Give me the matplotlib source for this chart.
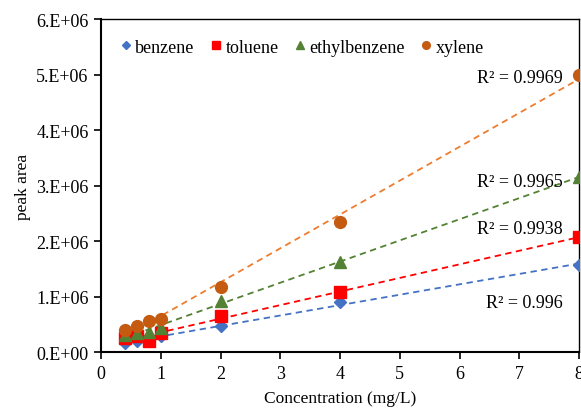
import numpy as np
import matplotlib
matplotlib.use('Agg')
import matplotlib.pyplot as plt

plt.rcParams['font.family'] = ['Liberation Serif', 'DejaVu Serif']

# Concentrations (mg/L) and peak areas
conc = [0.4, 0.6, 0.8, 1, 2, 4, 8]
benzene = [0.17e6, 0.20e6, 0.23e6, 0.28e6, 0.47e6, 0.90e6, 1.57e6]
toluene = [0.26e6, 0.29e6, 0.19e6, 0.35e6, 0.65e6, 1.08e6, 2.07e6]
ethylbenzene = [0.30e6, 0.34e6, 0.36e6, 0.44e6, 0.92e6, 1.63e6, 3.15e6]
xylene = [0.39e6, 0.46e6, 0.55e6, 0.60e6, 1.17e6, 2.35e6, 5.00e6]

names = ['benzene', 'toluene', 'ethylbenzene', 'xylene']
r2_labels = ['R² = 0.996', 'R² = 0.9938', 'R² = 0.9965', 'R² = 0.9969']
r2_y = [0.90e6, 2.22e6, 3.08e6, 4.94e6]

yticks = [0, 1e6, 2e6, 3e6, 4e6, 5e6, 6e6]
ytick_labels = ['0.E+00', '1.E+06', '2.E+06', '3.E+06', '4.E+06', '5.E+06', '6.E+06']

series = [benzene, toluene, ethylbenzene, xylene]
colors = ['#4472C4', '#FF0000', '#548235', '#C55A11']
line_colors = ['#4472C4', '#FF0000', '#548235', '#ED7D31']
markers = ['D', 's', '^', 'o']
msizes = [6, 8, 8, 8.5]

fig = plt.figure(figsize=(5.81, 4.10), dpi=100)
ax = fig.add_axes([0.174, 0.139, 0.8226, 0.812])

x = np.array(conc)
for vals, name, c, lc, m, ms in zip(series, names, colors, line_colors, markers, msizes):
    ax.plot(conc, vals, linestyle='none', marker=m, color=c, markersize=ms, label=name, zorder=3)
    k, b = np.polyfit(x, vals, 1)
    xs = np.array([x.min(), x.max()])
    ax.plot(xs, k * xs + b, linestyle=(0, (3.5, 2.5)), color=lc, linewidth=1.3, zorder=2)

for lab, yy in zip(r2_labels, r2_y):
    ax.text(7.72, yy, lab, ha='right', va='center', fontsize=13)

ax.set_xlim(0, 8)
ax.set_ylim(0, 6e6)
ax.set_xticks(range(0, 9))
ax.set_yticks(yticks)
ax.set_yticklabels(ytick_labels)
ax.tick_params(axis='both', labelsize=13, direction='out', length=5, width=1.2, pad=4)
for side in ['left', 'bottom']:
    ax.spines[side].set_linewidth(1.5)
for side in ['top', 'right']:
    ax.spines[side].set_linewidth(1.0)

ax.set_xlabel('Concentration (mg/L)', fontsize=12.5, labelpad=6)
ax.set_ylabel('peak area', fontsize=12.5, labelpad=4)

leg = ax.legend(loc='upper center', ncol=4, frameon=False, fontsize=13,
                bbox_to_anchor=(0.42, 0.99), handlelength=0.7, handletextpad=0.15,
                columnspacing=0.85, markerscale=0.65)

fig.savefig('out.png', dpi=100)
